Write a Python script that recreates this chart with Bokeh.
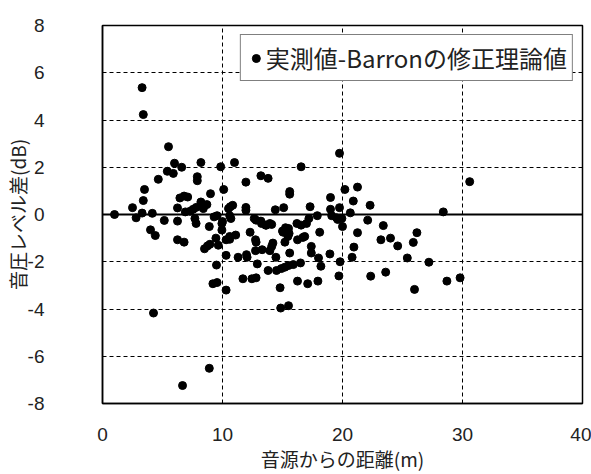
from bokeh.plotting import figure
from bokeh.models import Span, FixedTicker, ColumnDataSource, Legend, LegendItem
from bokeh.embed import file_html
from bokeh.resources import INLINE

# distance from source (m) and level difference (dB)
dist = [3.3, 3.4, 5.5, 6.0, 6.6, 8.2, 9.85, 11.0, 16.55, 19.75, 30.6,
        5.4, 5.9, 4.65, 7.9, 7.9, 3.5, 10.1, 9.0, 3.4, 2.5,
        6.45, 6.8, 7.1, 6.25, 8.2, 8.7, 7.8, 7.55, 8.4, 7.3, 6.9,
        11.95, 13.2, 13.8, 15.6, 15.6, 19.0, 10.65, 10.85, 10.5, 11.95, 11.95, 14.4, 15.1, 17.3, 19.0, 19.75,
        20.2, 21.25, 20.9, 22.3, 20.65, 28.4,
        1.0, 3.3, 4.15, 9.55, 10.0, 10.7, 10.6,
        2.8, 5.15, 6.25, 7.7, 7.8, 9.3, 8.9, 4.0, 4.4, 6.25, 6.8,
        9.95, 9.95, 9.45, 12.65, 13.2, 13.6, 13.95, 15.25, 15.0, 15.5, 16.2, 16.55,
        17.2, 17.0, 17.9, 19.1, 19.95, 12.3, 18.1, 11.1, 10.6,
        12.8, 13.25, 13.65, 14.1,
        8.5, 8.75, 8.95, 9.65, 9.5, 9.2, 9.55, 10.3, 4.25, 8.9, 6.67,
        10.3, 10.3, 10.6, 11.3, 12.0, 12.05, 12.75, 12.8, 12.9, 11.7, 12.45, 12.8,
        12.75, 13.3, 13.95, 14.1, 14.2, 14.45,
        13.8, 14.5, 14.9, 15.2, 15.5, 15.9, 14.8, 14.85, 15.5,
        15.05, 15.45, 15.55, 15.2, 15.6, 16.25, 16.7, 16.85, 17.4, 17.4, 18.0, 18.2, 16.5,
        16.25, 17.1, 17.95, 18.95, 19.8, 19.7,
        19.5, 19.6, 20.0, 22.1, 23.4, 21.25, 23.2, 24.0, 24.6, 26.2, 25.9,
        20.95, 20.8, 25.4, 27.2, 22.35, 23.6, 26.0, 28.7, 29.8]
diff = [5.37, 4.23, 2.87, 2.17, 2.0, 2.2, 2.02, 2.2, 2.02, 2.59, 1.39,
        1.83, 1.74, 1.49, 1.6, 1.43, 1.06, 1.06, 0.88, 0.59, 0.29,
        0.70, 0.78, 0.74, 0.28, 0.53, 0.42, 0.30, 0.22, 0.25, 0.14, 0.11,
        1.37, 1.64, 1.53, 0.97, 0.86, 0.72, 0.33, 0.39, 0.25, 0.30, 0.18, 0.20, 0.29, 0.33, 0.22, 0.29,
        1.06, 1.16, 0.57, 0.39, 0.07, 0.11,
        0.0, 0.06, 0.05, -0.05, -0.3, -0.17, -0.05,
        -0.14, -0.25, -0.28, -0.17, -0.38, -0.1, -0.51, -0.65, -0.89, -1.07, -1.17,
        -0.38, -0.66, -1.0, -0.17, -0.28, -0.45, -0.38, -0.56, -0.7, -0.59, -0.38, -0.45,
        -0.17, -0.38, -0.05, -0.05, -0.17, -0.75, -0.75, -0.87, -0.93,
        -0.24, -0.38, -0.45, -0.42,
        -1.45, -1.33, -1.26, -1.3, -2.14, -2.93, -2.88, -3.2, -4.17, -6.51, -7.24,
        -1.73, -1.07, -1.05, -1.81, -1.7, -1.81, -1.07, -1.17, -2.09, -2.72, -2.72, -2.68,
        -1.53, -1.49, -1.53, -1.35, -1.21, -1.81,
        -2.37, -2.37, -2.29, -2.23, -2.16, -2.12, -3.1, -3.96, -3.86,
        -0.75, -0.93, -0.8, -1.17, -1.63, -1.07, -0.97, -0.93, -1.35, -1.63, -1.84, -2.19, -2.05,
        -2.82, -2.93, -2.82, -1.67, -2.0, -2.6,
        -0.14, -0.21, -0.51, -0.24, -0.47, -0.77, -1.07, -1.0, -1.33, -0.77, -1.18,
        -1.38, -1.81, -1.84, -2.02, -2.61, -2.44, -3.17, -2.82, -2.68]

x_ticks = [0, 10, 20, 30, 40]
y_ticks = [-8, -6, -4, -2, 0, 2, 4, 6, 8]
series_name = "実測値-Barronの修正理論値"
x_title = "音源からの距離(m)"
y_title = "音圧レベル差(dB)"

FONT = "Noto Sans CJK JP"
NUMFONT = "Liberation Sans"

p = figure(width=591, height=474, x_range=(0, 40), y_range=(-8, 8),
           output_backend="svg", toolbar_location=None,
           min_border_left=102, min_border_right=9, min_border_top=25,
           min_border_bottom=69, background_fill_color="white",
           border_fill_color="white")

p.outline_line_color = "black"
p.outline_line_width = 1.5

for ax in (p.xaxis[0], p.yaxis[0]):
    ax.major_tick_line_color = None
    ax.minor_tick_line_color = None
    ax.axis_line_color = "black"
    ax.axis_line_width = 1.5
    ax.major_label_text_font = NUMFONT
    ax.major_label_text_font_size = "19px"
    ax.major_label_text_color = "#222222"
    ax.axis_label_text_font = FONT
    ax.axis_label_text_font_size = "19px"
    ax.axis_label_text_font_style = "normal"
    ax.axis_label_text_color = "#222222"

p.xaxis.ticker = FixedTicker(ticks=x_ticks)
p.yaxis.ticker = FixedTicker(ticks=y_ticks)
p.xaxis.major_label_overrides = {t: str(t) for t in x_ticks}
p.yaxis.major_label_overrides = {t: str(t) for t in y_ticks}
p.xaxis.axis_label = x_title
p.yaxis.axis_label = y_title
p.xaxis.major_label_standoff = 18
p.yaxis.major_label_standoff = 52
p.xaxis.axis_label_standoff = 1
p.yaxis.axis_label_standoff = -6

p.xgrid.ticker = FixedTicker(ticks=[10, 20, 30])
p.ygrid.ticker = FixedTicker(ticks=[-6, -4, -2, 2, 4, 6])
for g in (p.xgrid[0], p.ygrid[0]):
    g.grid_line_color = "black"
    g.grid_line_dash = "4 3"
    g.grid_line_width = 1

p.add_layout(Span(location=0, dimension="width", line_color="black", line_width=2))

src = ColumnDataSource(dict(x=dist, y=diff))
r = p.scatter("x", "y", source=src, size=8, color="black")

legend = Legend(items=[LegendItem(label=series_name, renderers=[r])],
                location="top_right")
legend.label_text_font = FONT
legend.label_text_font_size = "24px"
legend.label_text_color = "#222222"
legend.border_line_color = "black"
legend.border_line_width = 1
legend.background_fill_alpha = 1
legend.padding = 5
legend.margin = 9
legend.glyph_width = 20
legend.label_standoff = 0
p.add_layout(legend, "center")

open("out.html", "w").write(file_html(p, INLINE))
